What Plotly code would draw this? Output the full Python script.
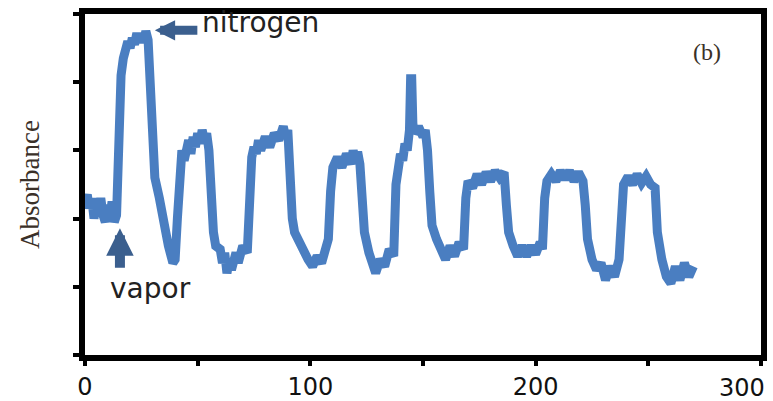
import plotly.graph_objects as go

# Time (x) and absorbance (arbitrary units)
time = [0, 1, 2, 3, 4, 5, 6, 7, 8, 9, 10, 11, 12, 13, 14,
        15, 16, 17, 18, 19, 20, 21, 22, 23, 24, 25, 26, 27, 28, 29, 30, 31, 33, 35, 37, 39, 40,
        41, 42, 43, 44, 45, 46, 47, 48, 49, 50, 51, 52, 53, 54, 55, 56, 57, 58, 60, 61, 62, 63, 64, 65, 67, 68, 70, 72,
        73, 74, 75, 76, 77, 78, 80, 82, 84, 86, 88, 89, 90, 91, 92, 93, 95, 97, 99, 101, 103, 105, 107, 108,
        109, 110, 112, 114, 116, 118, 119, 120, 121, 122, 123, 124, 126, 128, 129, 131, 133, 135, 137,
        138, 139, 140, 141, 142, 143, 144, 144.5, 145, 145.5, 146, 148, 150, 151, 152, 153, 154, 156, 158, 160, 162, 164, 166, 168,
        169, 170, 172, 174, 176, 178, 180, 182, 184, 186, 187, 188, 190, 192, 194, 196, 198, 200, 202, 203,
        204, 205, 207, 209, 211, 213, 215, 217, 219, 221, 222, 223, 225, 227, 229, 231, 233, 235, 237,
        238, 239, 241, 243, 245, 247, 249, 251, 253, 254, 256, 258, 260, 262, 264, 266, 268, 270]
absorbance = [2.25, 2.35, 2.15, 2.3, 2.0, 2.25, 2.05, 2.3, 2.05, 1.95, 2.2, 2.0, 2.25, 1.95, 2.05,
              3.2, 4.1, 4.35, 4.45, 4.6, 4.5, 4.65, 4.55, 4.72, 4.6, 4.7, 4.58, 4.75, 4.62, 3.8, 3.0, 2.6, 2.3, 1.9, 1.6, 1.35, 1.4,
              2.0, 2.85, 3.0, 2.85, 3.05, 3.15, 2.95, 3.2, 3.05, 3.25, 3.1, 3.3, 3.15, 3.25, 3.0, 2.2, 1.8, 1.6, 1.55, 1.35, 1.5, 1.2, 1.4, 1.25, 1.5, 1.35, 1.6, 1.5,
              2.4, 2.9, 3.05, 2.95, 3.15, 3.0, 3.2, 3.05, 3.25, 3.15, 3.35, 3.2, 3.3, 2.4, 2.0, 1.8, 1.65, 1.5, 1.4, 1.3, 1.45, 1.35, 1.6, 1.7,
              2.4, 2.75, 2.9, 2.75, 2.95, 2.8, 3.0, 2.85, 2.98, 2.8, 2.3, 1.8, 1.5, 1.3, 1.2, 1.4, 1.3, 1.55, 1.45,
              2.5, 2.85, 2.95, 2.85, 3.1, 3.0, 3.3, 4.05, 4.05, 3.4, 3.25, 3.35, 3.2, 3.3, 3.0, 2.4, 1.9, 1.7, 1.5, 1.4, 1.6, 1.45, 1.65, 1.55,
              2.3, 2.55, 2.45, 2.65, 2.5, 2.68, 2.55, 2.7, 2.6, 2.68, 2.2, 1.8, 1.6, 1.45, 1.6, 1.45, 1.6, 1.48, 1.65, 1.55,
              2.3, 2.55, 2.65, 2.55, 2.7, 2.58, 2.7, 2.55, 2.68, 2.55, 2.2, 1.7, 1.4, 1.25, 1.35, 1.1, 1.3, 1.15, 1.4,
              2.2, 2.5, 2.62, 2.5, 2.65, 2.52, 2.62, 2.5, 2.45, 1.8, 1.4, 1.15, 1.05, 1.3, 1.1, 1.35, 1.15, 1.3]

x_tickvals = [0, 50, 100, 150, 200, 250, 300]
x_ticktext = ["0", "", "100", "", "200", "", ""]
y_tickvals = [0, 1, 2, 3, 4, 5]

blue = "rgb(74,126,193)"
arrow_col = "rgb(59,95,142)"
tick_font = dict(family="DejaVu Sans", size=24, color="#111")

fig = go.Figure()
fig.add_trace(go.Scatter(x=time, y=absorbance, mode="lines",
                         line=dict(color=blue, width=9), showlegend=False))

fig.update_layout(
    width=773, height=401,
    margin=dict(l=85, r=12, t=14, b=46),
    paper_bgcolor="white", plot_bgcolor="white",
    xaxis=dict(range=[0, 300], tickvals=x_tickvals, ticktext=x_ticktext,
               automargin=False,
               showgrid=False, zeroline=False, showline=True, mirror=True,
               linecolor="black", linewidth=6, ticks="outside", ticklen=5,
               tickwidth=4, tickcolor="black", tickfont=tick_font),
    yaxis=dict(range=[0, 5], tickvals=y_tickvals, showticklabels=False,
               automargin=False,
               showgrid=False, zeroline=False, showline=True, mirror=True,
               linecolor="black", linewidth=6, ticks="outside", ticklen=6,
               tickwidth=4, tickcolor="black",
               title=dict(text="Absorbance", standoff=28,
                          font=dict(family="Liberation Serif", size=27, color="#3a3028"))),
    annotations=[
        dict(x=1.0, y=-0.05, xref="paper", yref="paper", text="300", showarrow=False,
             xanchor="left", yanchor="top", xshift=-44, font=tick_font),
        dict(x=31, y=4.76, xref="x", yref="y", text="", showarrow=True,
             ax=44, ay=0, arrowhead=2, arrowsize=0.45, arrowwidth=9, arrowcolor=arrow_col),
        dict(x=51, y=4.88, xref="x", yref="y", text="nitrogen", showarrow=False,
             xanchor="left", yanchor="middle",
             font=dict(family="DejaVu Sans", size=28, color="#222")),
        dict(x=15.5, y=1.86, xref="x", yref="y", text="", showarrow=True,
             ax=0, ay=41, arrowhead=2, arrowsize=0.55, arrowwidth=10, arrowcolor=arrow_col),
        dict(x=10, y=0.97, xref="x", yref="y", text="vapor", showarrow=False,
             xanchor="left", yanchor="middle",
             font=dict(family="DejaVu Sans", size=28, color="#222")),
        dict(x=0.92, y=0.89, xref="paper", yref="paper", text="(b)", showarrow=False,
             xanchor="center", yanchor="middle",
             font=dict(family="Liberation Serif", size=24, color="#3a3028")),
    ],
)

fig.write_html("out.html")
